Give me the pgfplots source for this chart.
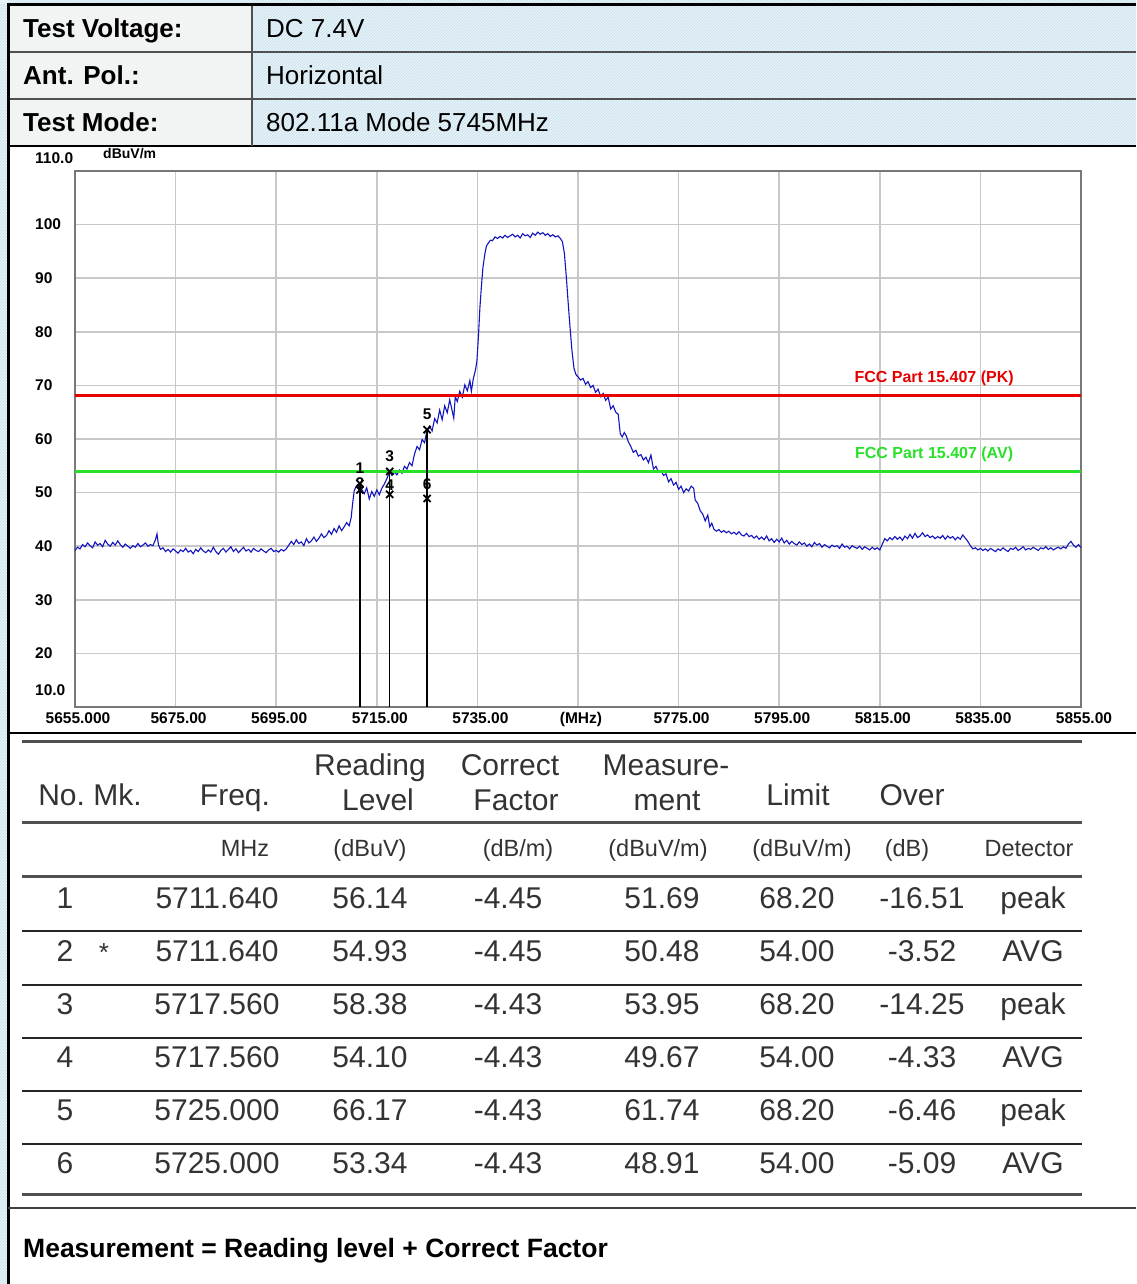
\documentclass[border=0pt]{standalone}
\usepackage{fontspec}
\setmainfont{Liberation Sans}
\usepackage{pgfplots}
\pgfplotsset{compat=1.18}
\usetikzlibrary{patterns}
\definecolor{trace}{RGB}{20,20,190}
\definecolor{pkred}{RGB}{230,0,0}
\definecolor{avgreen}{RGB}{40,225,40}
\definecolor{gridc}{RGB}{200,200,200}
\definecolor{framec}{RGB}{120,120,120}
\definecolor{hbg}{RGB}{232,243,249}
\definecolor{hline}{RGB}{196,222,236}
\definecolor{lbg}{RGB}{242,243,244}
\definecolor{tabtxt}{RGB}{51,51,51}
\definecolor{rulec}{RGB}{80,80,80}
\newcommand{\hf}{\fontsize{26}{30}\selectfont}
\newcommand{\tf}{\fontsize{30}{34}\selectfont}
\newcommand{\uf}{\fontsize{23.5}{27}\selectfont}
\newcommand{\kf}{\fontsize{15.5}{15.5}\selectfont\bfseries}
\pgfplotstableread{
x y
5655.0 39.2
5655.5 39.8
5656.0 39.5
5656.5 40.3
5657.0 39.9
5657.5 40.6
5658.0 40.1
5658.5 39.7
5659.0 40.8
5659.5 40.2
5660.0 40.5
5660.5 39.9
5661.0 41.1
5661.5 40.4
5662.0 40.0
5662.5 40.7
5663.0 40.2
5663.5 41.0
5664.0 40.3
5664.5 39.8
5665.0 40.4
5665.5 40.0
5666.0 39.6
5666.5 40.1
5667.0 39.8
5667.5 40.5
5668.0 39.9
5668.5 40.2
5669.0 40.6
5669.5 40.0
5670.0 40.3
5670.5 40.1
5671.0 41.2
5671.3 42.3
5671.6 40.2
5672.0 39.4
5672.5 39.7
5673.0 39.0
5673.5 39.4
5674.0 38.9
5674.5 39.5
5675.0 39.1
5675.5 38.7
5676.0 39.3
5676.5 39.0
5677.0 39.6
5677.5 38.9
5678.0 39.2
5678.5 38.6
5679.0 39.4
5679.5 39.0
5680.0 39.7
5680.5 39.1
5681.0 38.8
5681.5 39.3
5682.0 38.9
5682.5 39.8
5683.0 39.0
5683.5 38.5
5684.0 39.2
5684.5 39.6
5685.0 38.9
5685.5 39.4
5686.0 39.9
5686.5 39.0
5687.0 39.5
5687.5 38.8
5688.0 39.3
5688.5 39.8
5689.0 39.1
5689.5 39.4
5690.0 38.9
5690.5 39.6
5691.0 39.2
5691.5 39.0
5692.0 39.5
5692.5 39.1
5693.0 38.8
5693.5 39.3
5694.0 39.6
5694.5 39.0
5695.0 39.2
5695.5 38.9
5696.0 39.4
5696.5 39.1
5697.0 39.5
5697.5 40.2
5698.0 40.9
5698.5 40.3
5699.0 41.2
5699.5 40.5
5700.0 40.8
5700.5 40.1
5701.0 41.4
5701.5 40.6
5702.0 41.0
5702.5 41.7
5703.0 40.9
5703.5 41.5
5704.0 42.3
5704.5 41.6
5705.0 42.0
5705.5 42.9
5706.0 42.2
5706.5 43.3
5707.0 42.6
5707.5 43.8
5708.0 42.9
5708.5 43.6
5709.0 44.4
5709.5 43.8
5709.9 45.3
5710.2 48.0
5710.5 50.3
5710.8 51.0
5711.2 51.5
5711.64 51.2
5712.0 50.6
5712.5 49.8
5713.0 50.9
5713.5 48.8
5714.0 50.2
5714.5 49.3
5715.0 50.5
5715.5 49.6
5716.0 50.8
5716.5 51.6
5717.0 52.6
5717.56 53.9
5718.0 53.2
5718.5 53.8
5719.0 53.3
5719.5 54.2
5720.0 53.6
5720.5 54.9
5721.0 54.4
5721.5 55.6
5722.0 55.0
5722.5 57.2
5723.0 58.6
5723.5 58.0
5724.0 59.9
5724.5 59.3
5725.0 61.7
5725.5 62.4
5726.0 61.5
5726.5 63.8
5727.0 63.0
5727.5 65.4
5728.0 63.6
5728.5 66.2
5729.0 64.9
5729.5 67.3
5730.0 65.2
5730.3 63.9
5730.6 67.9
5731.0 67.0
5731.5 68.9
5732.0 67.8
5732.5 70.1
5733.0 69.0
5733.5 70.9
5733.8 68.9
5734.2 71.3
5734.6 72.8
5734.9 74.5
5735.2 79.0
5735.5 84.5
5735.8 88.5
5736.1 92.0
5736.5 94.6
5736.8 96.0
5737.2 96.6
5737.6 97.1
5738.0 97.0
5738.5 97.7
5739.0 97.4
5739.5 97.8
5740.0 97.5
5740.5 98.0
5741.0 97.6
5741.5 97.9
5742.0 98.2
5742.5 97.7
5743.0 98.0
5743.5 97.5
5744.0 98.3
5744.5 97.9
5745.0 98.1
5745.5 97.6
5746.0 98.4
5746.5 98.0
5747.0 98.6
5747.5 98.2
5748.0 98.5
5748.5 98.0
5749.0 98.3
5749.5 97.8
5750.0 98.1
5750.5 97.7
5751.0 97.9
5751.5 97.4
5751.9 96.8
5752.3 94.6
5752.7 90.0
5753.0 86.0
5753.4 81.0
5753.8 76.5
5754.2 73.2
5754.6 72.0
5755.0 71.6
5755.5 71.0
5756.0 71.3
5756.5 70.2
5757.0 70.7
5757.5 69.6
5758.0 70.0
5758.5 68.7
5759.0 69.3
5759.5 67.9
5760.0 68.5
5760.5 67.2
5761.0 67.8
5761.5 65.6
5762.0 66.2
5762.5 65.0
5763.0 64.6
5763.4 61.0
5763.8 60.4
5764.2 61.2
5764.6 60.6
5765.0 59.5
5765.5 58.6
5766.0 57.5
5766.5 57.9
5767.0 56.8
5767.5 57.1
5768.0 56.1
5768.5 56.6
5769.0 55.6
5769.5 57.0
5770.0 54.4
5770.5 54.9
5771.0 53.8
5771.5 54.1
5772.0 53.2
5772.5 53.5
5773.0 52.0
5773.5 52.6
5774.0 51.4
5774.5 51.9
5775.0 50.6
5775.5 51.2
5776.0 50.0
5776.5 50.7
5777.0 50.3
5777.5 51.2
5778.0 50.8
5778.3 48.6
5778.8 48.0
5779.3 46.6
5779.8 46.0
5780.3 44.7
5780.8 45.8
5781.2 43.6
5781.6 44.3
5782.0 43.2
5782.5 42.8
5783.0 43.1
5783.5 42.6
5784.0 42.9
5784.5 42.5
5785.0 42.8
5785.5 42.3
5786.0 42.6
5786.5 42.2
5787.0 42.7
5787.5 42.1
5788.0 41.9
5788.5 42.4
5789.0 41.8
5789.5 42.0
5790.0 41.5
5790.5 41.9
5791.0 41.3
5791.5 41.7
5792.0 41.2
5792.5 41.9
5793.0 41.0
5793.5 41.4
5794.0 40.7
5794.5 41.3
5795.0 40.8
5795.5 41.5
5796.0 40.6
5796.5 41.1
5797.0 40.4
5797.5 40.9
5798.0 40.5
5798.5 40.2
5799.0 40.8
5799.5 40.3
5800.0 40.6
5800.5 40.0
5801.0 40.4
5801.5 39.9
5802.0 40.7
5802.5 40.2
5803.0 40.5
5803.5 39.8
5804.0 40.3
5804.5 40.0
5805.0 39.7
5805.5 40.2
5806.0 39.9
5806.5 40.1
5807.0 39.6
5807.5 40.4
5808.0 39.8
5808.5 40.0
5809.0 39.5
5809.5 40.1
5810.0 39.8
5810.5 39.6
5811.0 40.0
5811.5 39.4
5812.0 39.9
5812.5 39.6
5813.0 39.3
5813.5 39.8
5814.0 39.4
5814.5 39.7
5815.0 39.3
5815.5 40.4
5816.0 41.4
5816.5 41.0
5817.0 41.6
5817.5 41.2
5818.0 41.8
5818.5 41.3
5819.0 41.7
5819.5 41.1
5820.0 41.9
5820.5 41.4
5821.0 42.2
5821.5 41.5
5822.0 42.4
5822.5 41.6
5823.0 41.9
5823.5 42.5
5824.0 41.8
5824.5 42.1
5825.0 41.6
5825.5 41.9
5826.0 41.4
5826.5 41.8
5827.0 41.5
5827.5 42.0
5828.0 41.3
5828.5 41.9
5829.0 41.5
5829.5 41.8
5830.0 41.2
5830.5 41.7
5831.0 41.3
5831.5 42.1
5832.0 41.5
5832.5 40.9
5833.0 40.1
5833.5 39.5
5834.0 39.7
5834.5 39.3
5835.0 39.6
5835.5 39.2
5836.0 39.5
5836.5 39.1
5837.0 39.6
5837.5 39.3
5838.0 39.0
5838.5 39.5
5839.0 39.2
5839.5 39.7
5840.0 39.3
5840.5 39.0
5841.0 39.6
5841.5 39.4
5842.0 39.8
5842.5 39.2
5843.0 39.5
5843.5 39.9
5844.0 39.3
5844.5 39.6
5845.0 39.4
5845.5 39.8
5846.0 39.5
5846.5 39.2
5847.0 39.7
5847.5 39.5
5848.0 39.9
5848.5 39.4
5849.0 39.7
5849.5 39.3
5850.0 39.6
5850.5 39.8
5851.0 39.5
5851.5 39.9
5852.0 39.6
5852.5 40.4
5853.0 40.9
5853.5 40.2
5854.0 39.8
5854.5 40.3
5855.0 39.7
}\tracetable
\begin{document}
\begin{tikzpicture}[x=1pt,y=1pt]
\path[use as bounding box] (0,0) rectangle (1136,1284);
\fill[white] (0,0) rectangle (1136,1284);
% outside hatched background
\fill[hbg] (0,0) rectangle (8,1284);
\fill[pattern=north east lines, pattern color=hline] (0,0) rectangle (8,1284);
\fill[hbg] (0,1280) rectangle (1136,1284);
\fill[pattern=north east lines, pattern color=hline] (8,1280) rectangle (1136,1284);
% header cells
\fill[lbg] (9,1138) rectangle (252,1279);
\fill[pattern=north east lines, pattern color=lbg!80!black!20] (9,1138) rectangle (252,1279);
\fill[hbg] (252,1138) rectangle (1136,1279);
\fill[pattern=north east lines, pattern color=hline] (252,1138) rectangle (1136,1279);
\draw[rulec, line width=1.5pt] (9,1232) -- (1136,1232);
\draw[rulec, line width=1.5pt] (9,1185) -- (1136,1185);
\draw[black, line width=2pt] (9,1138) -- (1136,1138);
\draw[rulec, line width=1.5pt] (252,1279) -- (252,1138);
% header text
\node[anchor=base west, inner sep=0pt, font=\hf\bfseries] at (23,1246) {Test Voltage:};
\node[anchor=base west, inner sep=0pt, font=\hf\bfseries] at (23,1199) {Ant. Pol.:};
\node[anchor=base west, inner sep=0pt, font=\hf\bfseries] at (23,1152) {Test Mode:};
\node[anchor=base west, inner sep=0pt, font=\hf] at (266,1246) {DC 7.4V};
\node[anchor=base west, inner sep=0pt, font=\hf] at (266,1199) {Horizontal};
\node[anchor=base west, inner sep=0pt, font=\hf] at (266,1152) {802.11a Mode 5745MHz};
% frame
\draw[black, line width=3pt] (8,0) -- (8,1280.5);
\draw[black, line width=3pt] (6.5,1279) -- (1136,1279);
\draw[black, line width=2pt] (8,551) -- (1136,551);
\draw[black!75, line width=2pt] (8,76) -- (1136,76);
% chart
\begin{axis}[
  at={(75pt,577pt)}, anchor=south west,
  width=1006pt, height=536pt, scale only axis,
  xmin=5655, xmax=5855, ymin=10, ymax=110,
  xtick={5655,5675,5695,5715,5735,5755,5775,5795,5815,5835,5855},
  xticklabels={5655.000,5675.00,5695.00,5715.00,5735.00,(MHz),5775.00,5795.00,5815.00,5835.00,5855.00},
  ytick={20,30,40,50,60,70,80,90,100},
  yticklabels={20,30,40,50,60,70,80,90,100},
  major tick length=0pt,
  grid=major,
  major grid style={gridc, line width=1.5pt},
  axis line style={framec, line width=2.5pt},
  tick label style={font=\kf, inner sep=0pt},
  xticklabel style={anchor=base, yshift=-17pt, xshift=3pt},
  yticklabel style={anchor=west, xshift=-40pt},
  clip=false,
]
\addplot[trace, line width=1.1pt] table[x=x,y=y] {\tracetable};
\addplot[pkred, line width=3pt] coordinates {(5655,68.2) (5855,68.2)};
\addplot[avgreen, line width=3pt] coordinates {(5655,54) (5855,54)};
\addplot[black, line width=1.5pt] coordinates {(5711.64,10) (5711.64,51.69)};
\addplot[black, line width=1.5pt] coordinates {(5717.56,10) (5717.56,53.95)};
\addplot[black, line width=1.5pt] coordinates {(5725,10) (5725,61.74)};
\addplot[black, only marks, mark=x, mark size=5pt, mark options={line width=1.8pt}] coordinates {(5711.64,51.69) (5711.64,50.48) (5717.56,53.95) (5717.56,49.67) (5725,61.74) (5725,48.91)};
\node[font=\kf, inner sep=0pt] at (axis cs:5711.64,50.48) [yshift=7pt] {2};
\node[font=\kf, inner sep=0pt] at (axis cs:5711.64,51.69) [yshift=15pt] {1};
\node[font=\kf, inner sep=0pt] at (axis cs:5717.56,53.95) [yshift=15pt] {3};
\node[font=\kf, inner sep=0pt] at (axis cs:5717.56,49.67) [yshift=9pt] {4};
\node[font=\kf, inner sep=0pt] at (axis cs:5725,61.74) [yshift=15pt] {5};
\node[font=\kf, inner sep=0pt] at (axis cs:5725,48.91) [yshift=14pt] {6};
\node[font=\fontsize{16}{16}\selectfont\bfseries, text=pkred, inner sep=0pt] at (axis cs:5825.8,71.4) {FCC Part 15.407 (PK)};
\node[font=\fontsize{16}{16}\selectfont\bfseries, text=avgreen, inner sep=0pt] at (axis cs:5825.8,57.1) {FCC Part 15.407 (AV)};
\end{axis}
\node[anchor=west, inner sep=0pt, font=\kf] at (35,1126) {110.0};
\node[anchor=west, inner sep=0pt, font=\kf] at (35,594) {10.0};
\node[anchor=west, inner sep=0pt, font=\fontsize{14}{14}\selectfont\bfseries] at (103,1130) {dBuV/m};
% data table rules
\draw[rulec, line width=3pt] (22,542) -- (1082,542);
\draw[rulec, line width=3pt] (22,461) -- (1082,461);
\draw[rulec, line width=3pt] (22,407) -- (1082,407);
\foreach \yy in {353,299,246,193,140} \draw[black!85, line width=1.8pt] (22,\yy) -- (1082,\yy);
\draw[rulec, line width=3pt] (22,89) -- (1082,89);
% header row
\begin{scope}[every node/.style={anchor=base, inner sep=0pt, font=\tf, text=tabtxt}]
\node at (90,478) {No.\ Mk.};
\node at (235,478) {Freq.};
\node at (370,508) {Reading};
\node at (378,473) {Level};
\node at (510,508) {Correct};
\node at (516,473) {Factor};
\node at (666,508) {Measure-};
\node at (667,473) {ment};
\node at (798,478) {Limit};
\node at (912,478) {Over};
\end{scope}
\begin{scope}[every node/.style={anchor=base, inner sep=0pt, font=\uf, text=tabtxt}]
\node at (245,427.5) {MHz};
\node at (370,427.5) {(dBuV)};
\node at (518,427.5) {(dB/m)};
\node at (658,427.5) {(dBuV/m)};
\node at (802,427.5) {(dBuV/m)};
\node at (907,427.5) {(dB)};
\node at (1029,427.5) {Detector};
\end{scope}
\begin{scope}[every node/.style={anchor=base, inner sep=0pt, font=\tf, text=tabtxt}]
\foreach \yy/\n/\f/\r/\c/\m/\l/\o/\d in {
375/1/5711.640/56.14/-4.45/51.69/68.20/-16.51/peak,
322/2/5711.640/54.93/-4.45/50.48/54.00/-3.52/AVG,
269/3/5717.560/58.38/-4.43/53.95/68.20/-14.25/peak,
216/4/5717.560/54.10/-4.43/49.67/54.00/-4.33/AVG,
163/5/5725.000/66.17/-4.43/61.74/68.20/-6.46/peak,
110/6/5725.000/53.34/-4.43/48.91/54.00/-5.09/AVG}{
\node at (65,\yy) {\n};
\node at (217,\yy) {\f};
\node at (370,\yy) {\r};
\node at (508,\yy) {\c};
\node at (662,\yy) {\m};
\node at (797,\yy) {\l};
\node at (922,\yy) {\o};
\node at (1033,\yy) {\d};
}
\node[font=\fontsize{26}{26}\selectfont] at (104,322) {*};
\end{scope}
% footer
\node[anchor=base west, inner sep=0pt, font=\fontsize{26.5}{30}\selectfont\bfseries] at (23,27) {Measurement = Reading level + Correct Factor};
\end{tikzpicture}
\end{document}
